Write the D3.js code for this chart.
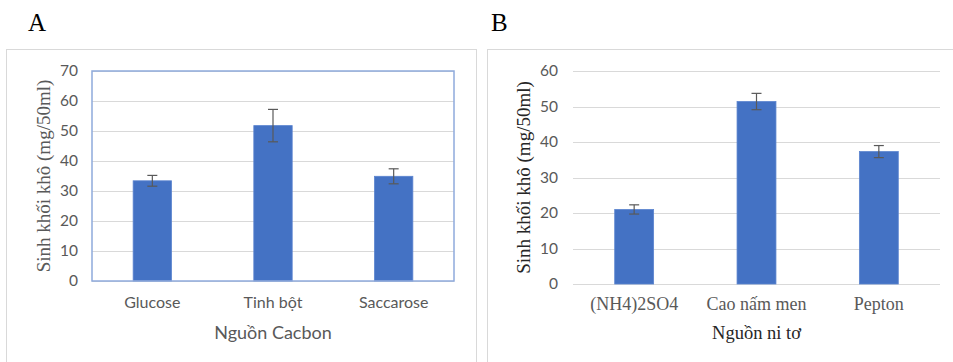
<!DOCTYPE html>
<html>
<head>
<meta charset="utf-8">
<script src="https://cdn.jsdelivr.net/npm/d3@7"></script>
<style>
  body { margin: 0; background: #fff; }
  svg { display: block; }
</style>
</head>
<body>
<div id="chart"></div>
<script>
// Panel A: carbon sources
const carbonSources = ["Glucose", "Tinh bột", "Saccarose"];
const carbonMeans = [33.4, 51.8, 34.9];
const carbonErrors = [1.8, 5.4, 2.5];
const carbonTicks = [0, 10, 20, 30, 40, 50, 60, 70];

// Panel B: nitrogen sources
const nitrogenSources = ["(NH4)2SO4", "Cao nấm men", "Pepton"];
const nitrogenMeans = [21.0, 51.4, 37.3];
const nitrogenErrors = [1.3, 2.3, 1.7];
const nitrogenTicks = [0, 10, 20, 30, 40, 50, 60];

const W = 953, H = 362;
const svg = d3.select("#chart").append("svg")
    .attr("width", W)
    .attr("height", H);

const SANS = "Lato, 'Open Sans', sans-serif";
const SERIF = "'Liberation Serif', 'DejaVu Serif', serif";

function drawPanel(opt) {
    const g = svg.append("g");

    // outer chart frame
    g.append("rect")
        .attr("x", opt.frame[0] + 0.5).attr("y", opt.frame[1] + 0.5)
        .attr("width", opt.frame[2]).attr("height", opt.frame[3])
        .attr("fill", "none").attr("stroke", "#d9d9d9");

    g.append("text")
        .attr("x", opt.letterX).attr("y", 31)
        .style("font-family", SERIF).style("font-size", "25px")
        .attr("fill", "#000")
        .text(opt.letter);

    const x = d3.scaleBand().domain(opt.cats).range([opt.left, opt.right]).padding(0);
    const y = d3.scaleLinear().domain([0, d3.max(opt.ticks)]).range([opt.bottom, opt.top]);
    const barW = x.bandwidth() * 0.318;

    // gridlines
    g.append("g")
        .selectAll("line").data(opt.ticks).join("line")
        .attr("x1", opt.left).attr("x2", opt.right)
        .attr("y1", d => Math.round(y(d)) + 0.5).attr("y2", d => Math.round(y(d)) + 0.5)
        .attr("stroke", "#d9d9d9").attr("stroke-width", 1);

    // y tick labels
    const yAxis = g.append("g")
        .attr("transform", `translate(${opt.left},0)`)
        .call(d3.axisLeft(y).tickValues(opt.ticks).tickSize(0).tickPadding(opt.left - opt.tickRight));
    yAxis.select(".domain").remove();
    yAxis.selectAll("text")
        .style("font-family", SANS).style("font-size", "15.5px")
        .attr("fill", "#595959");

    // bars
    g.append("g")
        .selectAll("rect").data(opt.cats).join("rect")
        .attr("x", d => x(d) + x.bandwidth() / 2 - barW / 2)
        .attr("y", (d, i) => y(opt.means[i]))
        .attr("width", barW)
        .attr("height", (d, i) => y(0) - y(opt.means[i]))
        .attr("fill", "#4472c4")
        .attr("stroke", "#5b84cf").attr("stroke-width", 0.8);

    // error bars
    const err = g.append("g").attr("stroke", "#595959").attr("stroke-width", 1.2);
    opt.cats.forEach((d, i) => {
        const cx = x(d) + x.bandwidth() / 2;
        const hi = y(opt.means[i] + opt.errors[i]);
        const lo = y(opt.means[i] - opt.errors[i]);
        err.append("line").attr("x1", cx).attr("x2", cx).attr("y1", hi).attr("y2", lo);
        err.append("line").attr("x1", cx - 5).attr("x2", cx + 5).attr("y1", hi).attr("y2", hi);
        err.append("line").attr("x1", cx - 5).attr("x2", cx + 5).attr("y1", lo).attr("y2", lo);
    });

    if (opt.border) {
        g.append("rect")
            .attr("x", opt.left).attr("y", opt.top)
            .attr("width", opt.right - opt.left).attr("height", opt.bottom - opt.top)
            .attr("fill", "none").attr("stroke", "#8faadc").attr("stroke-width", 1.5);
    }

    // x category labels
    g.append("g")
        .selectAll("text").data(opt.cats).join("text")
        .attr("x", d => x(d) + x.bandwidth() / 2)
        .attr("y", opt.labelY)
        .attr("text-anchor", "middle")
        .style("font-family", opt.labelFont).style("font-size", opt.labelSize)
        .attr("fill", "#595959")
        .text(d => d);

    // x title
    g.append("text")
        .attr("x", (opt.left + opt.right) / 2)
        .attr("y", 339)
        .attr("text-anchor", "middle")
        .style("font-family", opt.labelFont).style("font-size", opt.titleSize)
        .attr("fill", opt.titleColor)
        .text(opt.xTitle);

    // y title
    g.append("text")
        .attr("transform", `translate(${opt.yTitleX},${(opt.top + opt.bottom) / 2}) rotate(-90)`)
        .attr("text-anchor", "middle")
        .style("font-family", SERIF).style("font-size", "19px")
        .attr("fill", opt.titleColor)
        .text("Sinh khối khô (mg/50ml)");
}

drawPanel({
    letter: "A", letterX: 28,
    frame: [6, 49, 470, 320],
    cats: carbonSources, means: carbonMeans, errors: carbonErrors, ticks: carbonTicks,
    left: 92, right: 454, top: 71, bottom: 281, tickRight: 78,
    border: true,
    labelY: 308, labelFont: SANS, labelSize: "16px",
    xTitle: "Nguồn Cacbon", titleSize: "18px", titleColor: "#595959",
    yTitleX: 50
});

drawPanel({
    letter: "B", letterX: 491,
    frame: [487, 49, 480, 320],
    cats: nitrogenSources, means: nitrogenMeans, errors: nitrogenErrors, ticks: nitrogenTicks,
    left: 573, right: 940, top: 71, bottom: 284, tickRight: 558,
    border: false,
    labelY: 310, labelFont: SERIF, labelSize: "18px",
    xTitle: "Nguồn ni tơ", titleSize: "18.5px", titleColor: "#262626",
    yTitleX: 530
});
</script>
</body>
</html>
